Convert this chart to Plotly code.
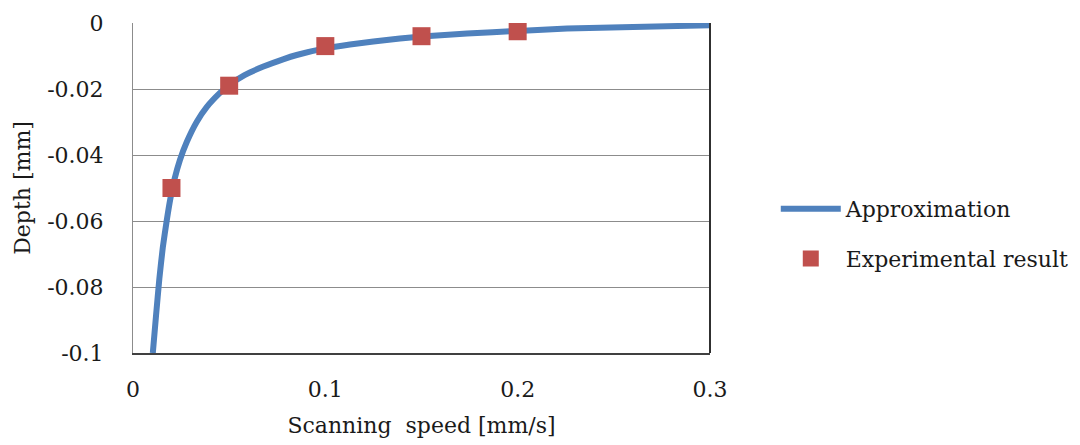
import plotly.graph_objects as go

# Fitted approximation curve: scanning speed [mm/s] vs depth [mm]
approx_speed = [0.0103, 0.0120, 0.0137, 0.0155, 0.0175, 0.0195, 0.0215, 0.0244,
                0.0280, 0.0331, 0.0383, 0.0452, 0.0500, 0.0580, 0.0678, 0.0780,
                0.0851, 0.0998, 0.1128, 0.1250, 0.1388, 0.1500, 0.1737, 0.2000,
                0.2257, 0.2600, 0.3000]
approx_depth = [-0.1000, -0.0885, -0.0775, -0.0680, -0.0600, -0.0530, -0.0475, -0.0415,
                -0.0360, -0.0300, -0.0255, -0.0212, -0.0188, -0.0158, -0.0132, -0.0110,
                -0.0097, -0.0077, -0.0065, -0.0056, -0.0047, -0.0041, -0.0032, -0.0024,
                -0.0017, -0.0012, -0.0007]

# Measured points
exp_speed = [0.02, 0.05, 0.10, 0.15, 0.20]
exp_depth = [-0.050, -0.019, -0.007, -0.004, -0.0025]

x_ticks = [0, 0.1, 0.2, 0.3]
x_tick_text = ["0", "0.1", "0.2", "0.3"]
y_ticks = [0, -0.02, -0.04, -0.06, -0.08, -0.1]
y_tick_text = ["0", "-0.02", "-0.04", "-0.06", "-0.08", "-0.1"]

FONT = "'DejaVu Serif', 'Liberation Serif', 'Times New Roman', serif"
TEXT = "#1a1a1a"
SIZE = 22

fig = go.Figure()
fig.add_trace(go.Scatter(
    x=approx_speed, y=approx_depth, mode="lines", name="Approximation",
    line=dict(color="#4F81BD", width=6, shape="spline", smoothing=0.5),
    legendgroup="a",
))
fig.add_trace(go.Scatter(
    x=exp_speed, y=exp_depth, mode="markers", name="Experimental result",
    marker=dict(symbol="square", size=18, color="#C0504D"),
    legendgroup="b",
))

fig.update_layout(
    width=1080, height=445,
    margin=dict(l=133, r=370, t=23, b=92, autoexpand=False),
    paper_bgcolor="white", plot_bgcolor="white",
    font=dict(family=FONT, size=SIZE, color=TEXT),
    legend=dict(
        x=1.114, y=0.5, xanchor="left", yanchor="top",
        font=dict(family=FONT, size=SIZE, color=TEXT),
        tracegroupgap=18, itemwidth=60,
        bgcolor="rgba(0,0,0,0)",
    ),
    xaxis=dict(
        range=[0, 0.3], tickvals=x_ticks, ticktext=x_tick_text,
        showgrid=False, zeroline=False,
        showline=True, linecolor="#404040", linewidth=2,
        ticks="", ticklabelstandoff=16,
        tickfont=dict(family=FONT, size=SIZE, color=TEXT),
        title=dict(text="Scanning  speed [mm/s]", standoff=16,
                   font=dict(family=FONT, size=SIZE, color=TEXT)),
    ),
    yaxis=dict(
        range=[-0.1, 0], tickvals=y_ticks, ticktext=y_tick_text,
        showgrid=True, gridcolor="#8c8c8c", gridwidth=1,
        zeroline=False,
        showline=True, linecolor="#8c8c8c", linewidth=1,
        ticks="", ticklabelstandoff=24,
        tickfont=dict(family=FONT, size=SIZE, color=TEXT),
        title=dict(text="Depth [mm]", standoff=10,
                   font=dict(family=FONT, size=SIZE, color=TEXT)),
    ),
    shapes=[dict(type="line", xref="paper", yref="paper",
                 x0=1, x1=1, y0=0, y1=1,
                 line=dict(color="#303030", width=2))],
)

fig.write_html("out.html")
